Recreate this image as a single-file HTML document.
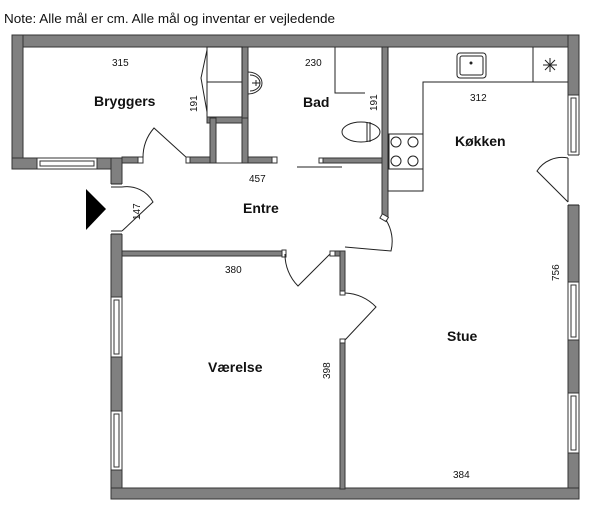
<!DOCTYPE html>
<html><head><meta charset="utf-8"><style>
body{margin:0;background:#fff;width:600px;height:518px;overflow:hidden}
svg{display:block;font-family:"Liberation Sans",sans-serif}
.w{fill:#808080;stroke:#333;stroke-width:1}
.l{fill:none;stroke:#222;stroke-width:1}
.win{fill:#fff;stroke:#333;stroke-width:1}
.r{font-weight:bold;font-size:14px;fill:#111}
.d{font-size:10px;fill:#111}
</style></head><body>
<svg width="600" height="518" viewBox="0 0 600 518">
<text x="4" y="23" font-size="12.5" fill="#111" textLength="331" lengthAdjust="spacingAndGlyphs">Note: Alle mål er cm. Alle mål og inventar er vejledende</text>
<rect class="w" x="12" y="35" width="567" height="12"/>
<rect class="w" x="12" y="35" width="11" height="134"/>
<rect class="w" x="12" y="158" width="110" height="11"/>
<rect class="w" x="568" y="35" width="11" height="464"/>
<rect class="w" x="111" y="158" width="11" height="341"/>
<rect class="w" x="111" y="488" width="468" height="11"/>
<rect class="win" x="37" y="158" width="60" height="11"/><rect class="win" x="40" y="161" width="54" height="5"/>
<rect x="110" y="184" width="13" height="50" fill="#fff"/>
<line class="l" x1="111" y1="184" x2="122" y2="184"/><line class="l" x1="111" y1="234" x2="122" y2="234"/>
<line class="l" x1="111" y1="187" x2="122" y2="187"/><line class="l" x1="111" y1="231" x2="122" y2="231"/>
<path class="l" d="M122 187 A30 30 0 0 1 153 202 L122 231"/>
<polygon points="86,189 106,209 86,230" fill="#000"/>
<rect class="win" x="111" y="297" width="11" height="60"/><rect class="win" x="114" y="300" width="5" height="54"/>
<rect class="win" x="111" y="411" width="11" height="59"/><rect class="win" x="114" y="414" width="5" height="53"/>
<rect class="win" x="568" y="95" width="11" height="60"/><rect class="win" x="571" y="98" width="5" height="54"/>
<rect class="win" x="568" y="282" width="11" height="58"/><rect class="win" x="571" y="285" width="5" height="52"/>
<rect class="win" x="568" y="393" width="11" height="60"/><rect class="win" x="571" y="396" width="5" height="54"/>
<rect x="567" y="155" width="13" height="50" fill="#fff"/>
<line class="l" x1="568" y1="155" x2="579" y2="155"/><line class="l" x1="568" y1="205" x2="579" y2="205"/>
<line class="l" x1="568" y1="158" x2="568" y2="202"/>
<path class="l" d="M568 158 A30 30 0 0 0 537 171 L568 202"/>
<rect class="w" x="122" y="157" width="21" height="6"/>
<rect class="win" x="138" y="157" width="5" height="6"/>
<path class="l" d="M143 158 A45 45 0 0 1 154 128 L187 158"/>
<rect class="win" x="186" y="157" width="5" height="6"/>
<rect class="w" x="190" y="157" width="26" height="6"/>
<rect class="w" x="210" y="118" width="6" height="45"/>
<rect class="w" x="242" y="47" width="6" height="116"/>
<rect class="w" x="242" y="157" width="33" height="6"/>
<rect class="win" x="272" y="157" width="5" height="6"/>
<rect class="l" x="207" y="47" width="35" height="71" fill="#fff"/>
<line class="l" x1="207" y1="82" x2="242" y2="82"/>
<rect class="w" x="207" y="117" width="35" height="6"/>
<rect class="w" x="216" y="123" width="26" height="40" style="fill:#fff"/>
<rect class="w" x="210" y="118" width="6" height="45"/><rect class="w" x="242" y="118" width="6" height="45"/>
<path class="l" d="M207 50 L201 78 L207 112"/>
<path class="l" d="M248 72 A14 11 0 0 1 248 94"/><path class="l" d="M250 75 A10 8 0 0 1 250 91"/>
<line class="l" x1="252" y1="83" x2="260" y2="83"/><line class="l" x1="256" y1="80" x2="256" y2="86"/>
<path class="l" d="M335 47 L335 93 L365 93"/>
<ellipse class="l" cx="361" cy="132" rx="19" ry="10"/>
<line class="l" x1="367" y1="122" x2="367" y2="142"/><line class="l" x1="370" y1="122" x2="370" y2="142"/>
<rect class="w" x="322" y="158" width="61" height="5"/>
<rect class="win" x="319" y="158" width="4" height="5"/>
<line class="l" x1="297" y1="167" x2="342" y2="167"/>
<rect class="w" x="382" y="47" width="6" height="170"/>
<rect class="win" x="381" y="215" width="7" height="5" transform="rotate(30 384 217)"/>
<path class="l" d="M386 220 A40 40 0 0 1 391 251 L345 247"/>
<path class="l" d="M388 47 L388 191 L423 191 L423 82 L568 82"/>
<line class="l" x1="533" y1="47" x2="533" y2="82"/>
<rect class="l" x="389" y="134" width="34" height="35"/>
<circle class="l" cx="396" cy="142" r="5"/><circle class="l" cx="413" cy="142" r="5"/>
<circle class="l" cx="396" cy="161" r="5"/><circle class="l" cx="413" cy="161" r="5"/>
<rect class="l" x="457" y="53" width="29" height="25" rx="3"/><rect class="l" x="460" y="56" width="23" height="19" rx="2"/>
<circle cx="471" cy="63" r="1.5" fill="#222"/>
<g stroke="#222" stroke-width="1"><line x1="543" y1="65" x2="557" y2="65"/><line x1="550" y1="58" x2="550" y2="72"/><line x1="545" y1="60" x2="555" y2="70"/><line x1="555" y1="60" x2="545" y2="70"/></g>
<rect class="w" x="122" y="251" width="163" height="5"/>
<rect class="win" x="282" y="250" width="4" height="7"/>
<path class="l" d="M285 254 A45 45 0 0 0 298 286 L330 254"/>
<rect class="win" x="330" y="251" width="5" height="5"/>
<rect class="w" x="335" y="251" width="10" height="5"/>
<rect class="w" x="340" y="251" width="5" height="42"/>
<rect class="win" x="340" y="291" width="5" height="4"/>
<path class="l" d="M345 293 A45 45 0 0 1 376 307 L345 340"/>
<rect class="win" x="340" y="339" width="5" height="4"/>
<rect class="w" x="340" y="343" width="5" height="146"/>
<text class="r" x="94" y="106">Bryggers</text>
<text class="r" x="303" y="107">Bad</text>
<text class="r" x="455" y="146">Køkken</text>
<text class="r" x="243" y="213">Entre</text>
<text class="r" x="208" y="372">Værelse</text>
<text class="r" x="447" y="341">Stue</text>
<text class="d" x="112" y="66">315</text>
<text class="d" x="305" y="66">230</text>
<text class="d" x="470" y="101">312</text>
<text class="d" x="249" y="182">457</text>
<text class="d" x="225" y="273">380</text>
<text class="d" x="453" y="478">384</text>
<text class="d" transform="translate(197,112) rotate(-90)">191</text>
<text class="d" transform="translate(377,111) rotate(-90)">191</text>
<text class="d" transform="translate(140,220) rotate(-90)">147</text>
<text class="d" transform="translate(330,379) rotate(-90)">398</text>
<text class="d" transform="translate(559,281) rotate(-90)">756</text>
</svg>
</body></html>
